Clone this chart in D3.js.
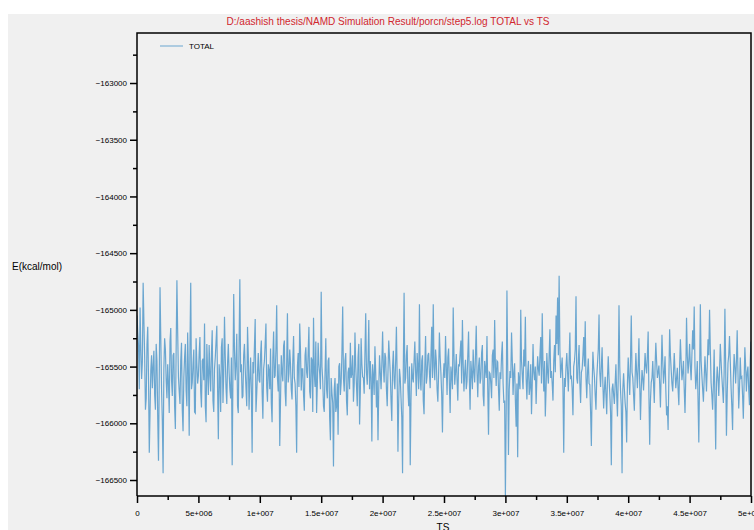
<!DOCTYPE html>
<html>
<head>
<meta charset="utf-8">
<script src="https://cdn.jsdelivr.net/npm/d3@7"></script>
<style>
  body { margin: 0; background: #ffffff; }
  svg { display: block; }
  text { font-family: "Liberation Sans", Arial, sans-serif; fill: #000; }
</style>
</head>
<body>
<div id="chart"></div>
<script>
// TOTAL energy, at TS = i*125000
const tsStep = 125000;
const total = [
  -165050, -165320, -164980, -165610, -164760, -165420, -165780, -165150, -166260, -165530,
  -165690, -165360, -165880, -165450, -166330, -164800, -165700, -166440, -165250, -165620,
  -165480, -165910, -165160, -165760, -165380, -166050, -164740, -165590, -165830, -165290,
  -166070, -165420, -165710, -165200, -166110, -164760, -165640, -165350, -165910, -165480,
  -165580, -165240, -165860, -165430, -165120, -165990, -165550, -165310, -165720, -165180,
  -165900, -165420, -165140, -166140, -165600, -165330, -165820, -165060, -165690, -165470,
  -165550, -165780, -166370, -164860, -165620, -165210, -165910, -164730, -165480, -165760,
  -165300, -165690, -165150, -165880, -165420, -166260, -165560, -165080, -165740, -165380,
  -165640, -165270, -165960, -165450, -165120, -165810, -165530, -165340, -165990, -165190,
  -165580, -164960, -165720, -166200, -165400, -165630, -165270, -165850, -165030, -165560,
  -165480, -165790, -165230, -165650, -166260, -165380, -165120, -165710, -165520, -165890,
  -165330, -165600, -165150, -165780, -165440, -165070, -165680, -165910, -165290, -165560,
  -164840, -165620, -165900, -165250, -165780, -165420, -166150, -165730, -166380, -165600,
  -165850, -166100, -165470, -165640, -164970, -165720, -165380, -165930, -165510, -165290,
  -165560, -165810, -165200, -165670, -165420, -166010, -165250, -165590, -165740, -165030,
  -165660, -165090, -165450, -166160, -165580, -165320, -165860, -166150, -165400, -165700,
  -165190, -165640, -165420, -165850, -165270, -165560, -165980, -165360, -165700, -165150,
  -166250, -165520, -165780, -166440, -164850, -165600, -165310, -165850, -166370, -165470,
  -165640, -165280, -165760, -165510, -164950, -165710, -165400, -165920, -165230, -165580,
  -165380, -165690, -165150, -164950, -165620, -165450, -165810, -165200, -165560, -166080,
  -165470, -165230, -165750, -165340, -165910, -165580, -164980, -165660, -165390, -165800,
  -165500, -165270, -165090, -165720, -165440, -165630, -165190, -165880, -165560, -165350,
  -165640, -165140, -165770, -165420, -165600, -165310, -165850, -165520, -165230, -166100,
  -165560, -165780, -165350, -165090, -165670, -165460, -165890, -165610, -165280, -165820,
  -166640, -164830, -166280, -165540, -165200, -165750, -165470, -166030, -166300, -165620,
  -165000, -165580, -165350, -165060, -165790, -165450, -165680, -165920, -165300, -165620,
  -165830, -165410, -165580, -165240, -165030, -165720, -165940, -165380, -165650, -165170,
  -165540, -165800, -165310, -165050, -164890, -164700, -165600, -165420, -166260, -165680,
  -165380, -165720, -165200, -165590, -165930, -165450, -164880, -165650, -165310, -165820,
  -165520, -165240, -165100, -165780, -165430, -165660, -166200, -165370, -165590, -165880,
  -165470, -165040, -165680, -165330, -165870, -165590, -165920, -165410, -165740, -166370,
  -165650, -165830, -165480, -165940, -164960, -165710, -166440, -165560, -165820, -166170,
  -165420, -165750, -165050, -165600, -165890, -165380, -165690, -165250, -165970, -165530,
  -165710, -165380, -165560, -165190, -166190, -165640, -165450, -165820, -165290, -165600,
  -165490, -165860, -165220, -165650, -165410, -165930, -166060, -165170, -165530, -165720,
  -165380, -165690, -165510, -165840, -165260, -165620, -165450, -165910, -165070, -165560,
  -165300, -165620, -165180, -164970, -165700, -165450, -166170, -164950, -165580, -165810,
  -165410, -165720, -165260, -165000, -165640, -165880, -165350, -166230, -165500, -165760,
  -165300, -165590, -165820, -164990, -166110, -165470, -165230, -165680, -166060, -165390,
  -165650, -165180, -165870, -165420, -165590, -165960, -165330, -165720, -165500, -165840,
  -165280
];
// TOTAL energy, at the half steps TS = 62500 + i*125000
const totalMid = [
  -165200, -165700, -165350, -165460, -165100, -165880, -165310, -165600, -165900, -165400,
  -165500, -165750, -165300, -165950, -165610, -165250, -165980, -165520, -165350, -165780,
  -165650, -165280, -165620, -165400, -165850, -165350, -165200, -165720, -165450, -165880,
  -165600, -165300, -165850, -165550, -165320, -165700, -165480, -165900, -165250, -165650,
  -165380, -165720, -165450, -165620, -165850, -165300, -165750, -165560, -165380, -165800,
  -165520, -165280, -165700, -165480, -165900, -165250, -165560, -165420, -165830, -165300,
  -165700, -165420, -165600, -165350, -165480, -165850, -165300, -165550, -165780, -165400,
  -165520, -165850, -165400, -165620, -165700, -165460, -165320, -165900, -165550, -165620,
  -165400, -165720, -165520, -165300, -165680, -165480, -165700, -165820, -165420, -165600,
  -165350, -165600, -165480, -165800, -165550, -165320, -165720, -165480, -165640, -165350,
  -165700, -165450, -165600, -165850, -165500, -165680, -165350, -165520, -165750, -165400,
  -165550, -165380, -165720, -165420, -165900, -165560, -165280, -165650, -165480, -165700,
  -165500, -165850, -165550, -165700, -165450, -165950, -165600, -165820, -165700, -165900,
  -165650, -165500, -165750, -165380, -165600, -165450, -165800, -165550, -165700, -165600,
  -165400, -165650, -165500, -165850, -165300, -165720, -165480, -165600, -165380, -165550,
  -165450, -165700, -165600, -165480, -165750, -165550, -165620, -165700, -165550, -165480,
  -165500, -165380, -165700, -165550, -165420, -165800, -165500, -165620, -165450, -165600,
  -165800, -165600, -165950, -165500, -165650, -165400, -165700, -165500, -165800, -165600,
  -165450, -165550, -165380, -165700, -165600, -165450, -165800, -165500, -165650, -165400,
  -165550, -165400, -165600, -165500, -165350, -165700, -165550, -165420, -165750, -165600,
  -165600, -165500, -165420, -165650, -165500, -165700, -165400, -165550, -165620, -165480,
  -165380, -165650, -165480, -165550, -165700, -165400, -165600, -165450, -165700, -165550,
  -165400, -165550, -165500, -165650, -165380, -165750, -165450, -165600, -165700, -165550,
  -165650, -165400, -165600, -165500, -165450, -165700, -165550, -165400, -165650, -165800,
  -165900, -165500, -165700, -165600, -165450, -165550, -165800, -165650, -165550, -165700,
  -165450, -165700, -165500, -165600, -165550, -165750, -165480, -165650, -165550, -165500,
  -165600, -165520, -165400, -165650, -165500, -165450, -165700, -165550, -165400, -165600,
  -165650, -165450, -165550, -165300, -165400, -165350, -165500, -165700, -165600, -165500,
  -165550, -165450, -165600, -165700, -165500, -165350, -165600, -165450, -165650, -165550,
  -165400, -165500, -165600, -165550, -165650, -165900, -165700, -165500, -165750, -165600,
  -165350, -165550, -165500, -165650, -165700, -165750, -165600, -165600, -165900, -165700,
  -165750, -165650, -165750, -165600, -165500, -165850, -165700, -165700, -165900, -165650,
  -165600, -165450, -165550, -165750, -165600, -165550, -165500, -165650, -165700, -165600,
  -165550, -165500, -165400, -165750, -165800, -165600, -165650, -165500, -165450, -165550,
  -165650, -165550, -165450, -165550, -165700, -165850, -165600, -165400, -165650, -165550,
  -165550, -165600, -165700, -165500, -165450, -165550, -165700, -165600, -165400, -165450,
  -165500, -165400, -165350, -165500, -165600, -165800, -165600, -165450, -165700, -165600,
  -165550, -165500, -165400, -165350, -165750, -165650, -165800, -165650, -165600, -165550,
  -165450, -165700, -165550, -165500, -165750, -165400, -165450, -165850, -165600, -165500,
  -165450, -165550, -165700, -165600, -165750, -165650, -165500, -165550, -165700, -165450
];
const yTicks = [-163000, -163500, -164000, -164500, -165000, -165500, -166000, -166500];
const xTicks = [0, 5e6, 1e7, 1.5e7, 2e7, 2.5e7, 3e7, 3.5e7, 4e7, 4.5e7, 5e7];
const xTickLabels = ["0", "5e+006", "1e+007", "1.5e+007", "2e+007", "2.5e+007", "3e+007",
  "3.5e+007", "4e+007", "4.5e+007", "5e+007"];

const W = 754, H = 530;
const padL = 137, padR = 751, padT = 33, padB = 496;

// merge the two readings into one series ordered by TS
const series = [];
total.forEach((v, i) => {
  series.push({ ts: i * tsStep, e: v });
  if (i < totalMid.length) series.push({ ts: i * tsStep + tsStep / 2, e: totalMid[i] });
});

const svg = d3.select("#chart").append("svg")
  .attr("width", W).attr("height", H);

svg.append("rect")
  .attr("x", 8).attr("y", 14)
  .attr("width", W - 8).attr("height", H - 14)
  .attr("fill", "#f0f0f0");

const x = d3.scaleLinear().domain([0, 5e7]).range([padL, padR]);
const y = d3.scaleLinear().domain([-166641, -162559]).range([padB, padT]);

// title
svg.append("text")
  .attr("x", 388).attr("y", 25)
  .attr("text-anchor", "middle")
  .attr("textLength", 323)
  .attr("lengthAdjust", "spacingAndGlyphs")
  .style("font-size", "11px")
  .style("fill", "#d0262e")
  .text("D:/aashish thesis/NAMD Simulation Result/porcn/step5.log TOTAL vs TS");

svg.append("defs").append("clipPath").attr("id", "plotclip")
  .append("rect")
  .attr("x", padL).attr("y", padT)
  .attr("width", padR - padL).attr("height", padB - padT);

// series
const line = d3.line()
  .x(d => x(d.ts))
  .y(d => y(d.e));

svg.append("path")
  .datum(series)
  .attr("clip-path", "url(#plotclip)")
  .attr("fill", "none")
  .attr("stroke", "#6aa6d0")
  .attr("stroke-width", 1.2)
  .attr("d", line);

// minor ticks
const yMinor = d3.range(-166750, -162500, 250).filter(v => v % 500 !== 0 && v >= -166641 && v <= -162559);
const xMinor = d3.range(2.5e6, 5e7, 5e6);

const gy = svg.append("g")
  .attr("transform", "translate(" + padL + ",0)")
  .call(d3.axisLeft(y).tickValues(yTicks).tickSize(7).tickPadding(3).tickFormat(d3.format("d")));
svg.append("g")
  .attr("transform", "translate(" + padL + ",0)")
  .call(d3.axisLeft(y).tickValues(yMinor).tickSize(4).tickFormat(""));

const gx = svg.append("g")
  .attr("transform", "translate(0," + padB + ")")
  .call(d3.axisBottom(x).tickValues(xTicks).tickSize(7).tickPadding(7)
    .tickFormat((d, i) => xTickLabels[i]));
svg.append("g")
  .attr("transform", "translate(0," + padB + ")")
  .call(d3.axisBottom(x).tickValues(xMinor).tickSize(4).tickFormat(""));

svg.selectAll(".domain").remove();
svg.selectAll(".tick line").attr("stroke", "#000").attr("stroke-width", 1.5);
svg.selectAll(".tick text")
  .style("font-size", "8px")
  .style("font-family", "'Liberation Sans', Arial, sans-serif")
  .attr("fill", "#000");
gy.selectAll(".tick text").attr("dy", "0.32em");

// frame
svg.append("path")
  .attr("d", "M" + padL + "," + padB + "V" + padT + "H" + padR + "V" + padB + "H" + padL)
  .attr("fill", "none")
  .attr("stroke", "#000")
  .attr("stroke-width", 1.5);

// legend
svg.append("line")
  .attr("x1", 160).attr("x2", 183)
  .attr("y1", 46).attr("y2", 46)
  .attr("stroke", "#6aa6d0").attr("stroke-width", 1);
svg.append("text")
  .attr("x", 189).attr("y", 49)
  .style("font-size", "8px")
  .text("TOTAL");

// axis titles
svg.append("text")
  .attr("x", 12).attr("y", 270)
  .style("font-size", "10px")
  .text("E(kcal/mol)");
svg.append("text")
  .attr("x", 443).attr("y", 531)
  .attr("text-anchor", "middle")
  .style("font-size", "10px")
  .text("TS");
</script>
</body>
</html>
